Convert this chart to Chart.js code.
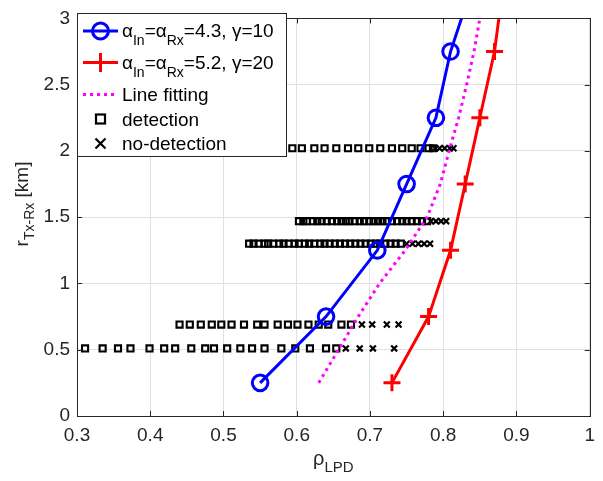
<!DOCTYPE html>
<html>
<head>
<meta charset="utf-8">
<script src="https://cdn.jsdelivr.net/npm/chart.js@4.4.0/dist/chart.umd.min.js"></script>
<style>
  body { margin: 0; background: #fff; }
  canvas { display: block; }
</style>
</head>
<body>
<canvas id="chart" width="603" height="481"></canvas>
<script>
  // axis ticks
  const xTicks = [0.3, 0.4, 0.5, 0.6, 0.7, 0.8, 0.9, 1];
  const yTicks = [0, 0.5, 1, 1.5, 2, 2.5, 3];

  // alpha_In = alpha_Rx = 4.3, gamma = 10
  const blueX = [0.55, 0.64, 0.71, 0.75, 0.79, 0.81, 0.825];
  const blueY = [0.25, 0.75, 1.25, 1.75, 2.25, 2.75, 3];
  // alpha_In = alpha_Rx = 5.2, gamma = 20
  const redX = [0.73, 0.78, 0.81, 0.83, 0.85, 0.87, 0.876];
  const redY = [0.25, 0.75, 1.25, 1.75, 2.25, 2.75, 3];
  // line fitting
  const fitX = [0.630, 0.657, 0.684, 0.713, 0.748, 0.778, 0.796, 0.808, 0.821, 0.832, 0.842, 0.850];
  const fitY = [0.25, 0.5, 0.75, 1.0, 1.25, 1.5, 1.75, 2.0, 2.25, 2.5, 2.75, 3.0];

  // measurement rows (distance in km)
  const rowY = [0.51, 0.69, 1.30, 1.47, 2.02];
  const detX = [
    [0.311, 0.335, 0.356, 0.373, 0.399, 0.419, 0.434, 0.456, 0.475, 0.487, 0.505, 0.523, 0.539, 0.556, 0.579, 0.598, 0.618, 0.640, 0.654],
    [0.440, 0.454, 0.469, 0.484, 0.497, 0.511, 0.528, 0.546, 0.556, 0.574, 0.588, 0.601, 0.616, 0.630, 0.643, 0.661, 0.674],
    [0.535, 0.541, 0.548, 0.556, 0.561, 0.568, 0.576, 0.582, 0.589, 0.597, 0.603, 0.611, 0.617, 0.624, 0.632, 0.638, 0.645, 0.652, 0.659, 0.666, 0.673, 0.680, 0.687, 0.694, 0.701, 0.708, 0.714, 0.721, 0.728, 0.735, 0.742],
    [0.603, 0.609, 0.614, 0.622, 0.628, 0.634, 0.641, 0.648, 0.655, 0.661, 0.667, 0.672, 0.679, 0.686, 0.692, 0.699, 0.705, 0.711, 0.717, 0.723, 0.730, 0.737, 0.744, 0.750, 0.757, 0.764, 0.771, 0.778],
    [0.594, 0.607, 0.624, 0.638, 0.654, 0.670, 0.684, 0.699, 0.714, 0.730, 0.744, 0.757, 0.769, 0.780, 0.786]
  ];
  const noDetX = [
    [0.667, 0.686, 0.704, 0.733],
    [0.689, 0.703, 0.723, 0.739],
    [0.750, 0.758, 0.766, 0.774, 0.782],
    [0.783, 0.790, 0.797, 0.804],
    [0.789, 0.795, 0.802, 0.809, 0.814]
  ];

  const FONT = "'Liberation Sans', Arial, sans-serif";
  const INK = '#262626';

  function pts(xs, ys) {
    return xs.map((x, i) => ({ x: x, y: ys[i] }));
  }

  function rowPts(rows) {
    let out = [];
    rows.forEach((xs, r) => xs.forEach(x => out.push({ x: x, y: rowY[r] })));
    return out;
  }

  // text with subscripts, drawn left to right from (x, y) baseline
  function drawRich(ctx, parts, x, y, size, subSize, drop) {
    parts.forEach(p => {
      ctx.font = (p.sub ? subSize : size) + 'px ' + FONT;
      ctx.fillText(p.t, x, y + (p.sub ? drop : 0));
      x += ctx.measureText(p.t).width;
    });
    return x;
  }

  function richWidth(ctx, parts, size, subSize) {
    let w = 0;
    parts.forEach(p => {
      ctx.font = (p.sub ? subSize : size) + 'px ' + FONT;
      w += ctx.measureText(p.t).width;
    });
    return w;
  }

  const boxPlugin = {
    id: 'matlabBox',
    afterDraw(chart) {
      const ctx = chart.ctx;
      const a = chart.chartArea;
      const xs = chart.scales.x, ys = chart.scales.y;
      ctx.save();
      ctx.strokeStyle = INK;
      ctx.lineWidth = 1;
      ctx.strokeRect(Math.round(a.left) + 0.5, Math.round(a.top) + 0.5,
        Math.round(a.right - a.left), Math.round(a.bottom - a.top));
      ctx.beginPath();
      xTicks.forEach(v => {
        const px = Math.round(xs.getPixelForValue(v)) + 0.5;
        ctx.moveTo(px, a.bottom); ctx.lineTo(px, a.bottom - 5);
        ctx.moveTo(px, a.top); ctx.lineTo(px, a.top + 5);
      });
      yTicks.forEach(v => {
        const py = Math.round(ys.getPixelForValue(v)) + 0.5;
        ctx.moveTo(a.left, py); ctx.lineTo(a.left + 5, py);
        ctx.moveTo(a.right, py); ctx.lineTo(a.right - 5, py);
      });
      ctx.stroke();

      // axis titles
      ctx.fillStyle = INK;
      ctx.textBaseline = 'alphabetic';
      const xt = [{ t: 'ρ' }, { t: 'LPD', sub: true }];
      const xw = richWidth(ctx, xt, 20, 15);
      drawRich(ctx, xt, (a.left + a.right) / 2 - xw / 2, 465, 20, 15, 7);

      const yt = [{ t: 'r' }, { t: 'Tx-Rx', sub: true }, { t: ' [km]' }];
      const yw = richWidth(ctx, yt, 19, 14);
      ctx.save();
      ctx.translate(27.5, 204);
      ctx.rotate(-Math.PI / 2);
      drawRich(ctx, yt, -yw / 2, 0, 19, 14, 6);
      ctx.restore();

      // legend
      const lx = 77.5, ly = 13.5, lw = 209, lh = 143;
      ctx.fillStyle = '#fff';
      ctx.fillRect(lx, ly, lw, lh);
      ctx.strokeStyle = INK;
      ctx.lineWidth = 1;
      ctx.strokeRect(lx, ly, lw, lh);

      const rows = [31, 62.5, 94.5, 119, 143.5];
      const sx0 = 83, sx1 = 118, mx = 100.5, tx = 122;

      // blue
      ctx.strokeStyle = '#0000ff';
      ctx.lineWidth = 3;
      ctx.beginPath(); ctx.moveTo(sx0, rows[0]); ctx.lineTo(sx1, rows[0]); ctx.stroke();
      ctx.beginPath(); ctx.arc(mx, rows[0], 8, 0, Math.PI * 2); ctx.stroke();
      // red
      ctx.strokeStyle = '#ff0000';
      ctx.beginPath(); ctx.moveTo(sx0, rows[1]); ctx.lineTo(sx1, rows[1]); ctx.stroke();
      ctx.beginPath();
      ctx.moveTo(mx - 9.5, rows[1]); ctx.lineTo(mx + 9.5, rows[1]);
      ctx.moveTo(mx, rows[1] - 9.5); ctx.lineTo(mx, rows[1] + 9.5);
      ctx.stroke();
      // magenta dotted
      ctx.strokeStyle = '#ff00ff';
      ctx.setLineDash([3, 4]);
      ctx.beginPath(); ctx.moveTo(sx0, rows[2]); ctx.lineTo(sx1, rows[2]); ctx.stroke();
      ctx.setLineDash([]);
      // square
      ctx.strokeStyle = '#000';
      ctx.lineWidth = 2.2;
      ctx.strokeRect(mx - 4.5, rows[3] - 4.5, 9, 9);
      // cross
      ctx.beginPath();
      ctx.moveTo(mx - 5, rows[4] - 5); ctx.lineTo(mx + 5, rows[4] + 5);
      ctx.moveTo(mx + 5, rows[4] - 5); ctx.lineTo(mx - 5, rows[4] + 5);
      ctx.stroke();

      ctx.fillStyle = '#000';
      drawRich(ctx, [{ t: 'α' }, { t: 'In', sub: true }, { t: '=α' }, { t: 'Rx', sub: true }, { t: '=4.3, γ=10' }],
        tx, rows[0] + 6, 19, 14, 8);
      drawRich(ctx, [{ t: 'α' }, { t: 'In', sub: true }, { t: '=α' }, { t: 'Rx', sub: true }, { t: '=5.2, γ=20' }],
        tx, rows[1] + 6, 19, 14, 8);
      drawRich(ctx, [{ t: 'Line fitting' }], tx, rows[2] + 6.5, 19, 14, 8);
      drawRich(ctx, [{ t: 'detection' }], tx, rows[3] + 6.5, 19, 14, 8);
      drawRich(ctx, [{ t: 'no-detection' }], tx, rows[4] + 6.5, 19, 14, 8);
      ctx.restore();
    }
  };

  const config = {
    type: 'scatter',
    data: {
      datasets: [
        {
          data: pts(blueX, blueY),
          showLine: true,
          borderColor: '#0000ff',
          borderWidth: 3,
          pointStyle: 'circle',
          pointRadius: [7.8, 7.8, 7.8, 7.8, 7.8, 7.8, 0],
          pointBorderWidth: 3,
          pointBorderColor: '#0000ff',
          pointBackgroundColor: 'rgba(0,0,0,0)'
        },
        {
          data: pts(redX, redY),
          showLine: true,
          borderColor: '#ff0000',
          borderWidth: 3,
          pointStyle: 'cross',
          pointRadius: [8.5, 8.5, 8.5, 8.5, 8.5, 8.5, 0],
          pointBorderWidth: 3,
          pointBorderColor: '#ff0000'
        },
        {
          data: pts(fitX, fitY),
          showLine: true,
          borderColor: '#ff00ff',
          borderWidth: 3,
          borderDash: [3, 4],
          pointRadius: 0
        },
        {
          data: rowPts(noDetX),
          pointStyle: 'crossRot',
          pointRadius: 4.2,
          pointBorderWidth: 2.2,
          pointBorderColor: '#000'
        },
        {
          data: rowPts(detX),
          pointStyle: 'rect',
          pointRadius: 4.3,
          pointBorderWidth: 2.1,
          pointBorderColor: '#000',
          pointBackgroundColor: 'rgba(0,0,0,0)'
        }
      ]
    },
    options: {
      responsive: false,
      animation: false,
      events: [],
      layout: { padding: { top: 15, right: 6, left: 0, bottom: 0 } },
      plugins: {
        legend: { display: false },
        tooltip: { enabled: false }
      },
      scales: {
        x: {
          type: 'linear',
          min: 0.3,
          max: 1,
          afterBuildTicks: s => { s.ticks = xTicks.map(v => ({ value: v })); },
          afterFit: s => { s.height = 65; },
          ticks: {
            callback: v => String(v),
            color: INK,
            font: { family: FONT, size: 19 },
            padding: 8,
            maxRotation: 0
          },
          grid: { color: '#e0e0e0', lineWidth: 1, drawTicks: false },
          border: { display: false }
        },
        y: {
          type: 'linear',
          min: 0,
          max: 3,
          afterBuildTicks: s => { s.ticks = yTicks.map(v => ({ value: v })); },
          afterFit: s => { s.width = 77; },
          ticks: {
            callback: v => String(v),
            color: INK,
            font: { family: FONT, size: 19 },
            padding: 7
          },
          grid: { color: '#e0e0e0', lineWidth: 1, drawTicks: false },
          border: { display: false }
        }
      }
    },
    plugins: [boxPlugin]
  };

  new Chart(document.getElementById('chart').getContext('2d'), config);
</script>
</body>
</html>
